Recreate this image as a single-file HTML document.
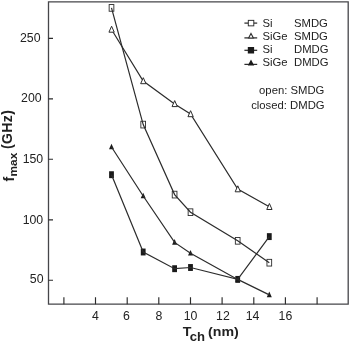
<!DOCTYPE html>
<html><head><meta charset="utf-8"><title>fmax vs Tch</title>
<style>
html,body{margin:0;padding:0;background:#fff;}
svg{display:block}
text{font-family:"Liberation Sans",Arial,sans-serif;fill:#222;}
.tk{font-size:12.3px}
.lg{font-size:11.3px}
.ax{font-size:13.3px;font-weight:bold}
</style></head><body>
<svg width="350" height="342" viewBox="0 0 350 342">
<rect width="350" height="342" fill="#fff"/>
<rect x="109.15" y="4.55" width="4.7" height="6.7" fill="none" stroke="#2c2c2c" stroke-width="0.9"/>
<rect x="140.85" y="121.25" width="4.7" height="6.7" fill="none" stroke="#2c2c2c" stroke-width="0.9"/>
<rect x="172.25" y="191.25" width="4.7" height="6.7" fill="none" stroke="#2c2c2c" stroke-width="0.9"/>
<rect x="188.15" y="208.85" width="4.7" height="6.7" fill="none" stroke="#2c2c2c" stroke-width="0.9"/>
<rect x="235.35" y="237.45" width="4.7" height="6.7" fill="none" stroke="#2c2c2c" stroke-width="0.9"/>
<rect x="266.95" y="259.35" width="4.7" height="6.7" fill="none" stroke="#2c2c2c" stroke-width="0.9"/>
<rect x="109.10" y="171.25" width="4.8" height="6.9" fill="#1a1a1a"/>
<rect x="140.80" y="248.55" width="4.8" height="6.9" fill="#1a1a1a"/>
<rect x="172.20" y="265.25" width="4.8" height="6.9" fill="#1a1a1a"/>
<rect x="188.10" y="264.05" width="4.8" height="6.9" fill="#1a1a1a"/>
<rect x="235.30" y="275.95" width="4.8" height="6.9" fill="#1a1a1a"/>
<rect x="266.90" y="233.15" width="4.8" height="6.9" fill="#1a1a1a"/>
<path d="M111.50 143.70 L114.00 149.30 L109.00 149.30 Z" fill="#1a1a1a"/>
<path d="M143.20 192.70 L145.70 198.30 L140.70 198.30 Z" fill="#1a1a1a"/>
<path d="M174.60 239.10 L177.10 244.70 L172.10 244.70 Z" fill="#1a1a1a"/>
<path d="M190.50 249.90 L193.00 255.50 L188.00 255.50 Z" fill="#1a1a1a"/>
<path d="M237.70 276.10 L240.20 281.70 L235.20 281.70 Z" fill="#1a1a1a"/>
<path d="M269.30 291.60 L271.80 297.20 L266.80 297.20 Z" fill="#1a1a1a"/>
<polyline points="111.5,7.9 143.2,124.6 174.6,194.6 190.5,212.2 237.7,240.8 269.3,262.7" fill="none" stroke="#2c2c2c" stroke-width="1.2"/>
<polyline points="111.5,29.5 143.2,81.0 174.6,103.9 190.5,114.0 237.7,189.1 269.3,206.8" fill="none" stroke="#2c2c2c" stroke-width="1.2"/>
<polyline points="111.5,174.7 143.2,252.0 174.6,268.7 190.5,267.5 237.7,279.4 269.3,236.6" fill="none" stroke="#2c2c2c" stroke-width="1.2"/>
<polyline points="111.5,147.0 143.2,196.0 174.6,242.4 190.5,253.2 237.7,279.4 269.3,294.9" fill="none" stroke="#2c2c2c" stroke-width="1.2"/>
<path d="M111.60 26.20 L114.25 32.20 L108.95 32.20 Z" fill="#fff" stroke="#2c2c2c" stroke-width="1.0" stroke-linejoin="miter"/>
<path d="M143.30 77.70 L145.95 83.70 L140.65 83.70 Z" fill="#fff" stroke="#2c2c2c" stroke-width="1.0" stroke-linejoin="miter"/>
<path d="M174.70 100.60 L177.35 106.60 L172.05 106.60 Z" fill="#fff" stroke="#2c2c2c" stroke-width="1.0" stroke-linejoin="miter"/>
<path d="M190.60 110.70 L193.25 116.70 L187.95 116.70 Z" fill="#fff" stroke="#2c2c2c" stroke-width="1.0" stroke-linejoin="miter"/>
<path d="M237.80 185.80 L240.45 191.80 L235.15 191.80 Z" fill="#fff" stroke="#2c2c2c" stroke-width="1.0" stroke-linejoin="miter"/>
<path d="M269.40 203.50 L272.05 209.50 L266.75 209.50 Z" fill="#fff" stroke="#2c2c2c" stroke-width="1.0" stroke-linejoin="miter"/>
<path d="M48.5 1.8 H348.2 V304.2 H48.5 Z" fill="none" stroke="#46464a" stroke-width="1.3"/>
<path d="M63.9 304.2 V297.3 M95.5 304.2 V297.3 M127.2 304.2 V297.3 M158.8 304.2 V297.3 M190.5 304.2 V297.3 M222.1 304.2 V297.3 M253.8 304.2 V297.3 M285.4 304.2 V297.3 M317.1 304.2 V297.3 M48.5 38.4 H53 M48.5 98.9 H53 M48.5 159.2 H53 M48.5 219.9 H53 M48.5 280.2 H53" fill="none" stroke="#2b2b2b" stroke-width="1.15"/>
<text x="95.5" y="320.0" text-anchor="middle" class="tk">4</text>
<text x="126.5" y="320.0" text-anchor="middle" class="tk">6</text>
<text x="158.8" y="320.0" text-anchor="middle" class="tk">8</text>
<text x="190.5" y="320.0" text-anchor="middle" class="tk">10</text>
<text x="222.9" y="320.0" text-anchor="middle" class="tk">12</text>
<text x="252.6" y="320.0" text-anchor="middle" class="tk">14</text>
<text x="285.4" y="320.0" text-anchor="middle" class="tk">16</text>
<text x="40.5" y="42.3" text-anchor="end" class="tk">250</text>
<text x="41.6" y="102.0" text-anchor="end" class="tk">200</text>
<text x="43.2" y="163.2" text-anchor="end" class="tk">150</text>
<text x="43.2" y="224.0" text-anchor="end" class="tk">100</text>
<text x="43.5" y="283.2" text-anchor="end" class="tk">50</text>
<text transform="translate(182.8,336.4) scale(1.075,1)" class="ax" style="font-size:13.2px">T<tspan dx="-1.6" dy="4.3" font-size="12.2">ch</tspan><tspan dy="-4.3" dx="-0.9"> (nm)</tspan></text>
<text transform="translate(14,181.4) rotate(-90)" class="ax" style="font-size:14px;letter-spacing:0.15px">f<tspan dy="2.8" font-size="11.8">max</tspan><tspan dy="-5" dx="-0.8" style="letter-spacing:0.4px"> (GHz)</tspan></text>
<text x="262.5" y="26.7" class="lg">Si</text>
<text x="294" y="26.7" class="lg">SMDG</text>
<text x="262.5" y="40.1" class="lg">SiGe</text>
<text x="294" y="40.1" class="lg">SMDG</text>
<text x="262.5" y="53.2" class="lg">Si</text>
<text x="294" y="53.2" class="lg">DMDG</text>
<text x="262.5" y="65.8" class="lg">SiGe</text>
<text x="294" y="65.8" class="lg">DMDG</text>
<path d="M244.4 23.1 H257.2" stroke="#2c2c2c" stroke-width="1.25"/>
<rect x="248.3" y="20.35" width="5.5" height="5.5" fill="#fff" stroke="#2c2c2c" stroke-width="0.95"/>
<path d="M244.4 37.9 H257.2" stroke="#2c2c2c" stroke-width="1.25"/>
<path d="M251 33.5 L253.4 38 L248.6 38 Z" fill="#fff" stroke="#2c2c2c" stroke-width="1.1"/>
<path d="M244.4 50.3 H257.2" stroke="#2c2c2c" stroke-width="1.25"/>
<rect x="247.8" y="47" width="6.3" height="6.5" fill="#1a1a1a"/>
<path d="M244.4 64.4 H257.2" stroke="#2c2c2c" stroke-width="1.25"/>
<path d="M251 59.6 L254.2 65.4 L247.8 65.4 Z" fill="#1a1a1a"/>
<text x="324.4" y="93.5" text-anchor="end" class="lg">open: SMDG</text>
<text x="324.6" y="108.6" text-anchor="end" class="lg">closed: DMDG</text>
</svg>
</body></html>
